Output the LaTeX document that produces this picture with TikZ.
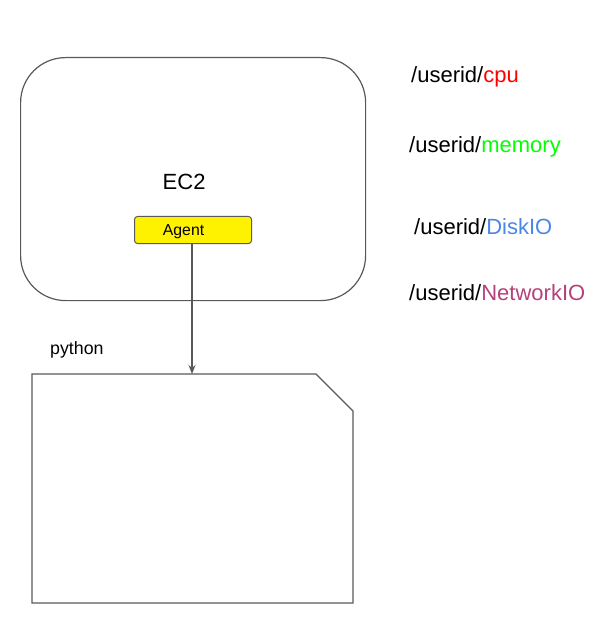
\documentclass[tikz,border=0pt]{standalone}
\usepackage{fontspec}
\setmainfont{Liberation Sans}
\usetikzlibrary{arrows.meta}
\definecolor{lineg}{HTML}{595959}
\definecolor{cpured}{HTML}{FF0000}
\definecolor{memgreen}{HTML}{00FF00}
\definecolor{diskblue}{HTML}{4A86E8}
\definecolor{netmag}{HTML}{B4417A}
\tikzset{
  lbl/.style={anchor=base west, inner sep=0pt, font=\fontsize{22}{24}\selectfont},
  shapeline/.style={draw=lineg, line width=1.2pt},
}
\begin{document}
\begin{tikzpicture}[x=1pt,y=-1pt]
\useasboundingbox (0,0) rectangle (599,617);
% EC2 box
\node[shapeline, rounded corners=45pt, minimum width=345pt, minimum height=243pt, anchor=north west, inner sep=0pt] (ec2) at (20,57) {};
\node[lbl] (ec2t) at (162.5,190) {EC2};
% Agent
\node[draw=lineg, line width=1pt, fill=yellow, rounded corners=3pt, minimum width=117pt, minimum height=27pt, anchor=north west, inner sep=0pt] (agent) at (134,216) {};
\node[anchor=base west, inner sep=0pt, font=\fontsize{15.8}{18}\selectfont] (agentt) at (162.7,236) {Agent};
% python label
\node[anchor=base west, inner sep=0pt, font=\fontsize{17.8}{20}\selectfont] (py) at (50,354) {python};
% document shape
\draw[shapeline] (32,374) -- (316,374) -- (353,411) -- (353,603) -- (32,603) -- cycle;
\coordinate (doctop) at (192,374);
\draw[lineg, line width=1.2pt, -{Stealth[length=9pt,width=7pt]}] (agent.south -| doctop) -- (doctop);
% labels
\node[lbl] (cpu) at (411,83) {/userid/\textcolor{cpured}{cpu}};
\node[lbl] (mem) at (409,153) {/userid/\textcolor{memgreen}{memory}};
\node[lbl] (disk) at (414,234) {/userid/\textcolor{diskblue}{DiskIO}};
\node[lbl] (net) at (409,300) {/userid/\textcolor{netmag}{NetworkIO}};
\end{tikzpicture}
\end{document}
